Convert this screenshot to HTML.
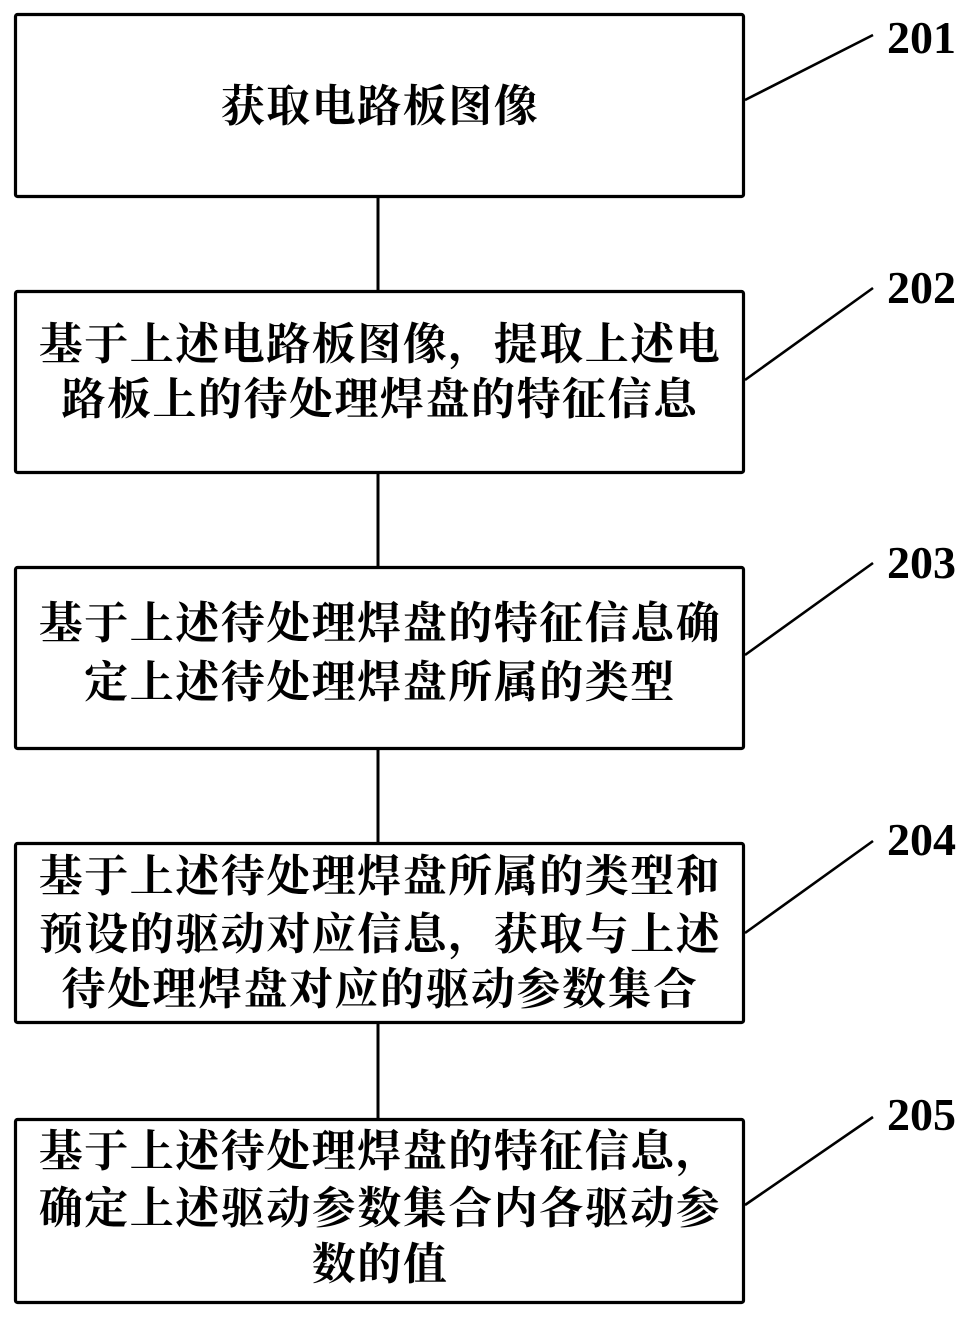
<!DOCTYPE html>
<html>
<head>
<meta charset="utf-8">
<style>
  html, body { margin: 0; padding: 0; background: #fff; }
  svg { display: block; }
  .t { font-family: "Liberation Serif", "Noto Serif CJK SC", "Noto Sans CJK SC", serif; font-weight: bold; font-size: 44px; letter-spacing: 1.5px; fill: #000; }
  .n { font-family: "Liberation Serif", serif; font-weight: bold; font-size: 46px; fill: #000; }
</style>
</head>
<body>
<svg width="976" height="1319" viewBox="0 0 976 1319" xmlns="http://www.w3.org/2000/svg">
  <rect x="0" y="0" width="976" height="1319" fill="#fff"/>
  <g fill="none" stroke="#000" stroke-width="3.2">
    <rect x="15.5" y="14.5" width="728" height="182" rx="2"/>
    <rect x="15.5" y="291.5" width="728" height="181" rx="2"/>
    <rect x="15.5" y="567.5" width="728" height="181" rx="2"/>
    <rect x="15.5" y="843.5" width="728" height="179" rx="2"/>
    <rect x="15.5" y="1119.5" width="728" height="183" rx="2"/>
  </g>
  <g stroke="#000" stroke-width="3">
    <line x1="378" y1="197" x2="378" y2="291"/>
    <line x1="378" y1="473" x2="378" y2="567"/>
    <line x1="378" y1="749" x2="378" y2="843"/>
    <line x1="378" y1="1023" x2="378" y2="1119"/>
  </g>
  <g stroke="#000" stroke-width="2.6">
    <line x1="745" y1="100" x2="873" y2="35"/>
    <line x1="745" y1="380" x2="873" y2="288"/>
    <line x1="745" y1="655" x2="873" y2="563"/>
    <line x1="745" y1="933" x2="873" y2="841"/>
    <line x1="745" y1="1205" x2="873" y2="1117"/>
  </g>
  <g class="n">
    <text x="887" y="53">201</text>
    <text x="887" y="303">202</text>
    <text x="887" y="578">203</text>
    <text x="887" y="855">204</text>
    <text x="887" y="1130">205</text>
  </g>
  <g class="t" text-anchor="middle">
    <text x="380" y="121">获取电路板图像</text>
    <text x="380" y="359">基于上述电路板图像，提取上述电</text>
    <text x="380" y="414">路板上的待处理焊盘的特征信息</text>
    <text x="380" y="638">基于上述待处理焊盘的特征信息确</text>
    <text x="380" y="697">定上述待处理焊盘所属的类型</text>
    <text x="380" y="891">基于上述待处理焊盘所属的类型和</text>
    <text x="380" y="949">预设的驱动对应信息，获取与上述</text>
    <text x="380" y="1004">待处理焊盘对应的驱动参数集合</text>
    <text x="380" y="1166">基于上述待处理焊盘的特征信息，</text>
    <text x="380" y="1223">确定上述驱动参数集合内各驱动参</text>
    <text x="380" y="1279">数的值</text>
  </g>
</svg>
</body>
</html>
